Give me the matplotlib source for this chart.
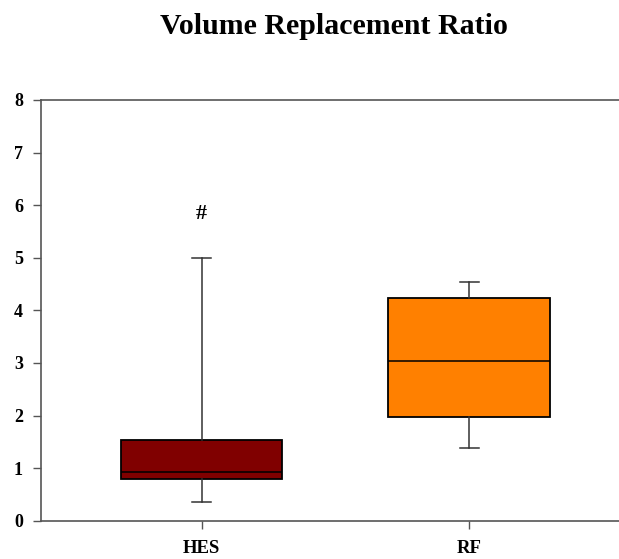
import matplotlib
matplotlib.use("Agg")
import matplotlib.pyplot as plt

# box statistics
groups = ["HES", "RF"]
whisker_low = [0.35, 1.39]
q1 = [0.79, 1.98]
median = [0.92, 3.04]
q3 = [1.53, 4.23]
whisker_high = [4.99, 4.54]
colors = ["#800000", "#FF8000"]
yticks = [0, 1, 2, 3, 4, 5, 6, 7, 8]

plt.rcParams["font.family"] = ["Liberation Serif", "DejaVu Serif"]
plt.rcParams["font.weight"] = "bold"

fig = plt.figure(figsize=(6.19, 5.59), dpi=100)
ax = fig.add_axes([41 / 619, 38.3 / 559, 578 / 619, 420.7 / 559])

stats = []
for i, g in enumerate(groups):
    stats.append({"label": g, "whislo": whisker_low[i], "q1": q1[i], "med": median[i],
                  "q3": q3[i], "whishi": whisker_high[i], "fliers": []})

positions = [1, 2]
bp = ax.bxp(stats, positions=positions, widths=0.603, patch_artist=True,
            showfliers=False, capwidths=0.071,
            boxprops=dict(edgecolor="black", linewidth=1.3),
            medianprops=dict(color="black", linewidth=1.1),
            whiskerprops=dict(color="#333333", linewidth=1.1),
            capprops=dict(color="#333333", linewidth=1.1))
for patch, c in zip(bp["boxes"], colors):
    patch.set_facecolor(c)

ax.text(positions[0], 5.83, "#", ha="center", va="center", fontsize=16, fontweight="bold")

ax.set_ylim(0, 8)
ax.set_xlim(0.4, 0.4 + 578 / 267.6)
ax.set_yticks(yticks)
ax.set_yticklabels([str(t) for t in yticks], fontsize=13, fontweight="bold")
ax.set_xticks(positions)
ax.set_xticklabels(groups, fontsize=13.5, fontweight="bold")
ax.tick_params(axis="both", direction="out", length=6, width=1, color="#555555")
ax.tick_params(axis="x", pad=8)
ax.tick_params(axis="y", pad=7)
for s in ["left", "bottom", "top"]:
    ax.spines[s].set_color("#555555")
    ax.spines[s].set_linewidth(1.2)
ax.spines["right"].set_visible(False)

fig.text(334 / 619, 1 - 34 / 559, "Volume Replacement Ratio", ha="center", va="baseline",
         fontsize=21.5, fontweight="bold")

fig.savefig("out.png", dpi=100)
